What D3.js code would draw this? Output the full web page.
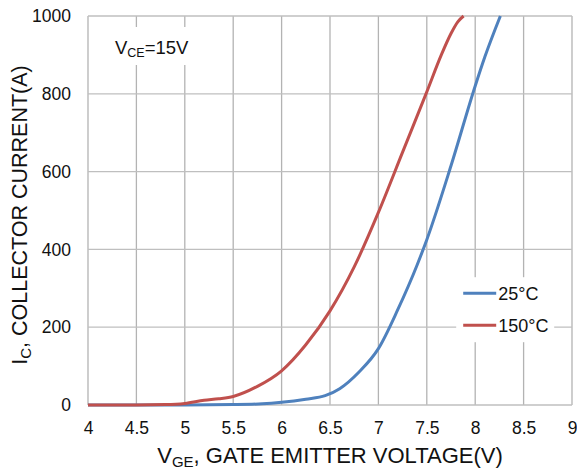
<!DOCTYPE html>
<meta charset="utf-8">
<script src="https://d3js.org/d3.v7.min.js"></script>
<style>
  body { margin: 0; background: #fff; }
  text { font-family: "Liberation Sans", Arial, sans-serif; fill: #111; }
</style>
<div id="chart"></div>
<script>

// data
var xTicks = [4, 4.5, 5, 5.5, 6, 6.5, 7, 7.5, 8, 8.5, 9];
var yTicks = [0, 200, 400, 600, 800, 1000];

var vge25 = [4, 4.5, 5, 5.5, 5.8, 6, 6.25, 6.45, 6.6, 6.8, 7, 7.2, 7.4, 7.5, 7.75, 8, 8.1, 8.26];
var ic25  = [0, 0, 0, 1, 3, 7, 15, 24, 42, 85, 145, 245, 360, 425, 615, 820, 895, 1000];

var vge150 = [4, 4.5, 4.8, 5, 5.2, 5.35, 5.5, 5.75, 6, 6.25, 6.5, 6.75, 7, 7.25, 7.5, 7.65, 7.75, 7.82, 7.88];
var ic150  = [0, 0, 1, 4, 12, 16, 22, 48, 88, 155, 242, 355, 495, 650, 805, 900, 955, 985, 1000];

var series = [
  {name: "25°C", color: "#4f81bd", x: vge25, y: ic25},
  {name: "150°C", color: "#c0504d", x: vge150, y: ic150}
];

var W = 577, H = 473;
var margin = {top: 16, right: 5, bottom: 68, left: 88};
var width = W - margin.left - margin.right,
    height = H - margin.top - margin.bottom;

var svg = d3.select("#chart").append("svg")
    .attr("width", W)
    .attr("height", H);

var g = svg.append("g")
    .attr("transform", "translate(" + margin.left + "," + margin.top + ")");

var x = d3.scaleLinear().domain([4, 9]).range([0, width]);
var y = d3.scaleLinear().domain([0, 1000]).range([height, 0]);

// grid
g.append("g")
  .selectAll("line")
  .data(xTicks)
  .enter().append("line")
    .attr("x1", function(d) { return x(d); })
    .attr("x2", function(d) { return x(d); })
    .attr("y1", 0)
    .attr("y2", height)
    .attr("stroke", "#b3b3b3")
    .attr("stroke-width", 1.3);

g.append("g")
  .selectAll("line")
  .data(yTicks)
  .enter().append("line")
    .attr("x1", 0)
    .attr("x2", width)
    .attr("y1", function(d) { return y(d); })
    .attr("y2", function(d) { return y(d); })
    .attr("stroke", "#bfbfbf")
    .attr("stroke-width", 1.3);

// tick labels
var xAxis = g.append("g")
    .attr("transform", "translate(0," + height + ")")
    .call(d3.axisBottom(x).tickValues(xTicks).tickSize(0).tickPadding(17).tickFormat(d3.format("")));
xAxis.select(".domain").remove();
xAxis.selectAll("text").style("font-size", "17.5px").attr("fill", "#111");

var yAxis = g.append("g")
    .call(d3.axisLeft(y).tickValues(yTicks).tickSize(0).tickPadding(17).tickFormat(d3.format("")));
yAxis.select(".domain").remove();
yAxis.selectAll("text").style("font-size", "17.5px").attr("fill", "#111");

// curves
var line = d3.line()
    .x(function(d) { return x(d[0]); })
    .y(function(d) { return y(d[1]); })
    .curve(d3.curveMonotoneX);

g.selectAll("path.curve")
  .data(series)
  .enter().append("path")
    .attr("class", "curve")
    .attr("fill", "none")
    .attr("stroke", function(d) { return d.color; })
    .attr("stroke-width", 3)
    .attr("d", function(d) { return line(d3.zip(d.x, d.y)); });

// V_CE label box
g.append("rect")
    .attr("x", 16).attr("y", 11)
    .attr("width", 100).attr("height", 38)
    .attr("fill", "#fff");
var vce = g.append("text")
    .attr("x", 27).attr("y", 37.5)
    .style("font-size", "18.5px");
vce.append("tspan").text("V");
vce.append("tspan").text("CE").attr("dy", 3).style("font-size", "12.5px");
vce.append("tspan").text("=15V").attr("dy", -3);

// legend
var leg = g.append("g").attr("transform", "translate(" + (x(8) - 19) + "," + (y(200) - 50) + ")");
leg.append("rect")
    .attr("x", 0).attr("y", 0)
    .attr("width", 98).attr("height", 65)
    .attr("fill", "#fff");
series.forEach(function(s, i) {
  var yy = 16 + i * 32;
  leg.append("line")
      .attr("x1", 7).attr("x2", 40)
      .attr("y1", yy).attr("y2", yy)
      .attr("stroke", s.color)
      .attr("stroke-width", 3);
  leg.append("text")
      .attr("x", 42).attr("y", yy + 6.5)
      .style("font-size", "18px")
      .text(s.name);
});

// axis titles
var xt = svg.append("text")
    .attr("x", margin.left + width / 2)
    .attr("y", 463)
    .attr("text-anchor", "middle")
    .style("font-size", "22px");
xt.append("tspan").text("V");
xt.append("tspan").text("GE").attr("dy", 4).style("font-size", "15px");
xt.append("tspan").text(", GATE EMITTER VOLTAGE(V)").attr("dy", -4);

var yt = svg.append("text")
    .attr("transform", "translate(27," + 215 + ") rotate(-90)")
    .attr("text-anchor", "middle")
    .style("font-size", "21.5px");
yt.append("tspan").text("I");
yt.append("tspan").text("C").attr("dy", 4).style("font-size", "15px");
yt.append("tspan").text(", COLLECTOR CURRENT(A)").attr("dy", -4);

</script>
